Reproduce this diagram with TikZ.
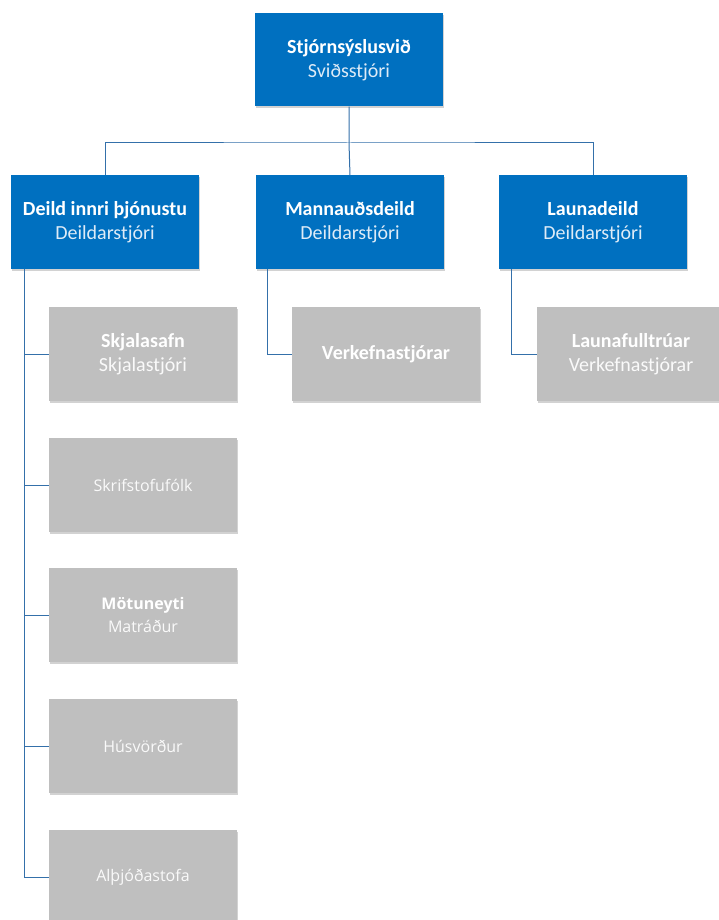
\documentclass[tikz,border=0pt]{standalone}
\usepackage{fontspec}
\setmainfont{Carlito}
\newfontfamily\opensans{Open Sans}
\usetikzlibrary{shadows}
\definecolor{boxblue}{RGB}{0,112,192}
\definecolor{boxgray}{RGB}{191,191,191}
\definecolor{linkblue}{RGB}{52,112,170}
\definecolor{subblue}{RGB}{222,235,247}
\definecolor{subgray}{RGB}{250,250,250}
\begin{document}
\begin{tikzpicture}[x=1pt,y=-1pt,
		unit/.style={fill=boxblue,text=white,minimum width=188pt,minimum height=93pt,align=center,inner sep=2pt,
			font=\fontsize{20}{24}\selectfont,drop shadow={opacity=0.35,shadow xshift=1pt,shadow yshift=-2pt}},
		staff/.style={unit,fill=boxgray,minimum height=94pt},
		osans/.style={font=\opensans\fontsize{16}{23}\selectfont},
		link/.style={draw=linkblue,line width=1pt}]
		\clip (0,0) rectangle (719,920);
		\fill[white] (0,0) rectangle (719,920);
		\node[unit,name=top] at (349,60){\textbf{Stjórnsýslusvið}\\\textcolor{subblue}{Sviðsstjóri}};
		\node[unit,name=innri] at (105,222){\textbf{Deild innri þjónustu}\\\textcolor{subblue}{Deildarstjóri}};
		\node[unit,name=mannaud] at (350,222){\textbf{Mannauðsdeild}\\\textcolor{subblue}{Deildarstjóri}};
		\node[unit,name=laun] at (593,222){\textbf{Launadeild}\\\textcolor{subblue}{Deildarstjóri}};
		\node[staff,name=skjal] at (143,354){\textbf{Skjalasafn}\\\textcolor{subgray}{Skjalastjóri}};
		\node[staff,osans,name=skrif] at (143,485){\textcolor{subgray}{Skrifstofufólk}};
		\node[staff,osans,name=motu] at (143,615){\textbf{Mötuneyti}\\\textcolor{subgray}{Matráður}};
		\node[staff,osans,name=hus] at (143,746){\textcolor{subgray}{Húsvörður}};
		\node[staff,osans,name=althj] at (143,877){\textcolor{subgray}{Alþjóðastofa}};
		\node[staff,name=verk] at (386,354){\textbf{Verkefnastjórar}};
		\node[staff,name=launf] at (631,354){\textbf{Launafulltrúar}\\\textcolor{subgray}{Verkefnastjórar}};
		\coordinate (bus) at (349,143);
		\draw[link] (top.south)--(bus)--(mannaud.north);
		\draw[link] (innri.north)|-(bus)-|(laun.north);
		\coordinate (innribar) at ([xshift=14pt]innri.south west);
		\draw[link] (innribar)|-(althj.west);
		\foreach \c in {skjal,skrif,motu,hus}
			\draw[link] (innribar|-\c.west)--(\c.west);
		\draw[link] ([xshift=12pt]mannaud.south west)|-(verk.west);
		\draw[link] ([xshift=13pt]laun.south west)|-(launf.west);
	\end{tikzpicture}
\end{document}
